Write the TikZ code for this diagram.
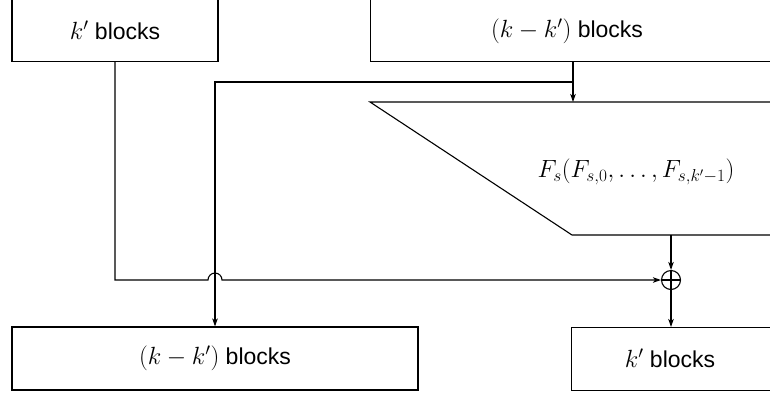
\documentclass[tikz,border=0pt]{standalone}
\usepackage{fontspec}
\setmainfont{Liberation Sans}
\usetikzlibrary{arrows.meta,positioning,calc}
\tikzstyle{line} = [draw, -{Stealth[length=8pt,width=5.5pt,inset=2pt]}]
\tikzstyle{block} = [draw, inner sep=0pt, minimum height=63pt]

\begin{document}
\begin{tikzpicture}[x=1pt,y=-1pt,line width=1.1pt,>={Stealth[length=8pt,width=5.5pt,inset=2pt]},font=\fontsize{23}{27}\selectfont]
        \clip (0,0) rectangle (770,392);
        \node [block, minimum width=206pt] (1) at (115,30) {$k'$ blocks};
        \node [block, minimum width=410pt, anchor=north west] (2) at (370,-2) {};
        \node (2t) at (567,31) {$(k-k')$ blocks};
        \node [block, minimum width=406pt] (3) at (215,358.5) {$(k-k')$ blocks};
        \node [block, minimum width=410pt, anchor=north west] (4) at (571,327) {};
        \node (4t) at (670,358) {$k'$ blocks};
        % trapezoid F_s
        \coordinate (tl) at (370,102);
        \coordinate (bl) at (572,235);
        \draw (780,102) -- (tl) -- (bl) -- (780,235);
        \node [font=\fontsize{25}{29}\selectfont] (5) at (636,172) {$F_s(F_{s,0},\dots,F_{s,k'-1})$};
        \node [draw, circle, minimum size=19pt, inner sep=0pt] (6) at (671,280) {};
        \draw (6.north) -- (6.south) (6.west) -- (6.east);
        \coordinate (split) at (573,82);
        \draw [->] (split |- 2.south) -- (split |- tl);
        \draw [->] (split) -| (3.north);
        \draw [->] (1.south) |- ($(3.north |- 6)+(-7,0)$)
            arc [start angle=180, end angle=0, radius=7pt] -- (6.west);
        \draw [->] (6 |- bl) -- (6.north);
        \draw [->] (6.south) -- (6 |- 4.north);
    \end{tikzpicture}
\end{document}
